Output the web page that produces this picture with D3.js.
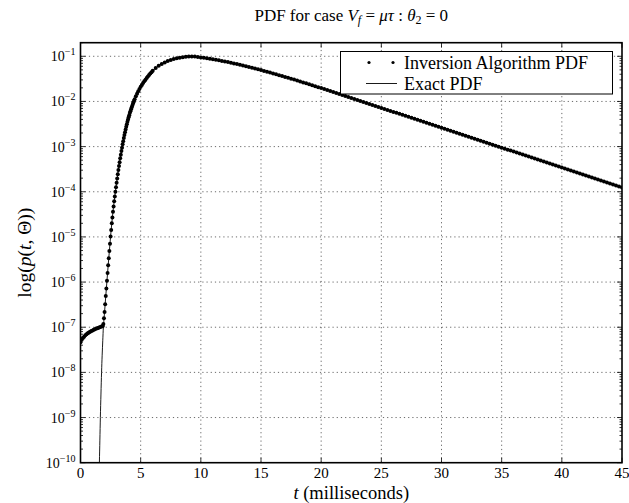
<!DOCTYPE html>
<html>
<head>
<meta charset="utf-8">
<script src="https://cdn.jsdelivr.net/npm/d3@7"></script>
<style>
  body { margin: 0; background: white; }
  text { font-family: "Liberation Serif", "DejaVu Serif", serif; fill: black; }
</style>
</head>
<body>
<div id="container"></div>
<script>
let w = 629;
let h = 503;
let margin = {left: 80.5, right: 7, top: 42.7, bottom: 40.3};

// DATA (y given as log10 of p)
let xTicks = [0, 5, 10, 15, 20, 25, 30, 35, 40, 45];
let yTickExps = [-10, -9, -8, -7, -6, -5, -4, -3, -2, -1];

// inversion algorithm dots
let tInv = [
  0, 0.1, 0.2, 0.3, 0.4, 0.5, 0.6, 0.7, 0.8, 0.9, 1.0, 1.1, 1.2, 1.3, 1.4, 1.5, 1.6, 1.7, 1.8,
  1.85, 1.9, 1.95, 2.0, 2.05, 2.1, 2.15, 2.2, 2.25, 2.3, 2.35, 2.4, 2.45, 2.5, 2.55, 2.6, 2.65, 2.7, 2.75, 2.8, 2.85, 2.9, 2.95,
  3.0, 3.05, 3.1, 3.15, 3.2, 3.25, 3.3, 3.35, 3.4, 3.45, 3.5, 3.55, 3.6, 3.65, 3.7, 3.75, 3.8, 3.85, 3.9, 3.95,
  4.0, 4.05, 4.1, 4.15, 4.2, 4.25, 4.3, 4.35, 4.4, 4.45, 4.5,
  4.6, 4.7, 4.8, 4.9, 5.0, 5.1, 5.2, 5.3, 5.4, 5.5, 5.6, 5.7, 5.8, 5.9, 6.0,
  6.25, 6.5, 6.75, 7, 7.25, 7.5, 7.75, 8, 8.25, 8.5, 8.75, 9, 9.25, 9.5, 9.75, 10,
  10.25, 10.5, 10.75, 11, 11.25, 11.5, 11.75, 12, 12.25, 12.5, 12.75, 13, 13.25, 13.5, 13.75, 14,
  14.25, 14.5, 14.75, 15, 15.25, 15.5, 15.75, 16, 16.25, 16.5, 16.75, 17, 17.25, 17.5, 17.75, 18,
  18.25, 18.5, 18.75, 19, 19.25, 19.5, 19.75, 20, 20.25, 20.5, 20.75, 21, 21.25, 21.5, 21.75, 22,
  22.25, 22.5, 22.75, 23, 23.25, 23.5, 23.75, 24, 24.25, 24.5, 24.75, 25, 25.25, 25.5, 25.75, 26,
  26.25, 26.5, 26.75, 27, 27.25, 27.5, 27.75, 28, 28.25, 28.5, 28.75, 29, 29.25, 29.5, 29.75, 30,
  30.25, 30.5, 30.75, 31, 31.25, 31.5, 31.75, 32, 32.25, 32.5, 32.75, 33, 33.25, 33.5, 33.75, 34,
  34.25, 34.5, 34.75, 35, 35.25, 35.5, 35.75, 36, 36.25, 36.5, 36.75, 37, 37.25, 37.5, 37.75, 38,
  38.25, 38.5, 38.75, 39, 39.25, 39.5, 39.75, 40, 40.25, 40.5, 40.75, 41, 41.25, 41.5, 41.75, 42,
  42.25, 42.5, 42.75, 43, 43.25, 43.5, 43.75, 44, 44.25, 44.5, 44.75, 45
];
let invLogP = [
  -7.33, -7.28, -7.24, -7.21, -7.18, -7.155, -7.135, -7.115, -7.10, -7.085, -7.07, -7.055, -7.045, -7.03, -7.02, -7.01, -7.00, -6.99, -6.98,
  -6.975, -6.93, -6.80, -6.66, -6.49, -6.31, -6.14, -5.97, -5.80, -5.63, -5.47, -5.31, -5.15, -4.99, -4.845, -4.70, -4.57, -4.44, -4.325, -4.21, -4.105, -4.00, -3.90,
  -3.80, -3.705, -3.61, -3.52, -3.43, -3.345, -3.26, -3.18, -3.10, -3.025, -2.95, -2.88, -2.81, -2.745, -2.68, -2.62, -2.56, -2.505, -2.45, -2.40,
  -2.35, -2.304, -2.258, -2.216, -2.173, -2.134, -2.095, -2.059, -2.023, -1.987, -1.951,
  -1.886, -1.827, -1.773, -1.723, -1.677, -1.634, -1.593, -1.554, -1.517, -1.482, -1.448, -1.415, -1.383, -1.352, -1.322,
  -1.262, -1.21, -1.17, -1.135, -1.105, -1.08, -1.06, -1.043, -1.03, -1.02, -1.012, -1.007, -1.005, -1.007, -1.014, -1.024,
  -1.034, -1.044, -1.054, -1.065, -1.077, -1.09, -1.102, -1.115, -1.129, -1.144, -1.158, -1.173, -1.189, -1.205, -1.221, -1.237,
  -1.254, -1.272, -1.289, -1.306, -1.324, -1.343, -1.361, -1.379, -1.398, -1.418, -1.437, -1.456, -1.476, -1.496, -1.516, -1.536,
  -1.557, -1.578, -1.598, -1.619, -1.64, -1.662, -1.683, -1.704, -1.726, -1.748, -1.769, -1.791, -1.813, -1.835, -1.857, -1.879,
  -1.901, -1.923, -1.945, -1.967, -1.989, -2.011, -2.033, -2.055, -2.077, -2.099, -2.121, -2.143, -2.165, -2.187, -2.209, -2.231,
  -2.253, -2.275, -2.297, -2.319, -2.341, -2.363, -2.385, -2.407, -2.429, -2.451, -2.473, -2.495, -2.517, -2.539, -2.561, -2.583,
  -2.605, -2.627, -2.649, -2.671, -2.693, -2.715, -2.737, -2.759, -2.781, -2.803, -2.825, -2.847, -2.869, -2.891, -2.913, -2.935,
  -2.957, -2.979, -3.001, -3.023, -3.045, -3.067, -3.089, -3.111, -3.133, -3.155, -3.177, -3.199, -3.221, -3.243, -3.265, -3.287,
  -3.309, -3.331, -3.353, -3.375, -3.397, -3.419, -3.441, -3.463, -3.485, -3.507, -3.529, -3.551, -3.573, -3.595, -3.617, -3.639,
  -3.661, -3.683, -3.705, -3.727, -3.749, -3.771, -3.793, -3.815, -3.837, -3.859, -3.881, -3.903
];

// exact pdf line
let tExact = [1.55, 1.57, 1.61, 1.65, 1.70, 1.75, 1.80, 1.85, 1.90, 1.95, 2.0, 2.1, 2.2, 2.3, 2.4, 2.5, 2.6, 2.7, 2.8, 2.9,
  3.0, 3.2, 3.4, 3.6, 3.8, 4.0, 4.2, 4.4, 4.7, 5.0, 5.5, 6, 6.5, 7, 7.5, 8, 8.5, 9, 9.5, 10,
  11, 12, 13, 14, 15, 16, 17, 18, 19, 20, 21, 25, 30, 35, 40, 45];
let exactLogP = [-10.3, -10.0, -9.5, -9.0, -8.48, -8.0, -7.62, -7.30, -7.0, -6.83, -6.66, -6.31, -5.97, -5.63, -5.31, -4.99, -4.70, -4.44, -4.21, -4.00,
  -3.80, -3.43, -3.10, -2.81, -2.56, -2.35, -2.173, -2.023, -1.827, -1.677, -1.482, -1.322, -1.21, -1.135, -1.08, -1.043, -1.02, -1.007, -1.007, -1.024,
  -1.065, -1.115, -1.173, -1.237, -1.306, -1.379, -1.456, -1.536, -1.619, -1.704, -1.791, -2.143, -2.583, -3.023, -3.463, -3.903];

let legendLabels = ["Inversion Algorithm PDF", "Exact PDF"];

// SVG
let viz = d3.select("#container").append("svg")
    .attr("width", w)
    .attr("height", h)
    .style("display", "block")
    .style("background-color", "white");

// SCALES
let xScale = d3.scaleLinear().domain([0, 45]).range([margin.left, w - margin.right]);
let yScale = d3.scaleLog().domain([1e-10, 0.2]).range([h - margin.bottom, margin.top]);

let x0 = margin.left, x1 = w - margin.right, y0 = h - margin.bottom, y1 = margin.top;

// grid
let grid = viz.append("g");
grid.selectAll(".vgrid").data(xTicks.slice(1, -1)).enter()
  .append("line")
    .attr("x1", d => xScale(d)).attr("x2", d => xScale(d))
    .attr("y1", y0).attr("y2", y1)
    .attr("stroke", "#444").attr("stroke-width", 0.8)
    .attr("stroke-dasharray", "1.2,3");
grid.selectAll(".hgrid").data(yTickExps.slice(1)).enter()
  .append("line")
    .attr("x1", x0).attr("x2", x1)
    .attr("y1", d => yScale(Math.pow(10, d))).attr("y2", d => yScale(Math.pow(10, d)))
    .attr("stroke", "#444").attr("stroke-width", 0.8)
    .attr("stroke-dasharray", "1.2,3");

// ticks (inward, all four sides)
let ticks = viz.append("g").attr("stroke", "black").attr("stroke-width", 0.8);
xTicks.forEach(function(t){
  ticks.append("line").attr("x1", xScale(t)).attr("x2", xScale(t)).attr("y1", y0).attr("y2", y0 - 5);
  ticks.append("line").attr("x1", xScale(t)).attr("x2", xScale(t)).attr("y1", y1).attr("y2", y1 + 5);
});
let minorVals = [];
for (let k = -10; k <= -1; k++) {
  for (let m = 2; m <= 9; m++) {
    if (m * Math.pow(10, k) <= 0.2) minorVals.push(m * Math.pow(10, k));
  }
}
yTickExps.forEach(function(e){
  let y = yScale(Math.pow(10, e));
  ticks.append("line").attr("x1", x0).attr("x2", x0 + 5).attr("y1", y).attr("y2", y);
  ticks.append("line").attr("x1", x1).attr("x2", x1 - 5).attr("y1", y).attr("y2", y);
});
minorVals.forEach(function(v){
  let y = yScale(v);
  ticks.append("line").attr("x1", x0).attr("x2", x0 + 2.5).attr("y1", y).attr("y2", y);
  ticks.append("line").attr("x1", x1).attr("x2", x1 - 2.5).attr("y1", y).attr("y2", y);
});

// clip for the data
viz.append("clipPath").attr("id", "plotclip")
  .append("rect").attr("x", x0).attr("y", y1).attr("width", x1 - x0).attr("height", y0 - y1);

let plot = viz.append("g").attr("clip-path", "url(#plotclip)");

let exactData = tExact.map((t, i) => ({t: t, p: Math.pow(10, exactLogP[i])}));
let invData = tInv.map((t, i) => ({t: t, p: Math.pow(10, invLogP[i])}));

let lineMaker = d3.line()
    .x(d => xScale(d.t))
    .y(d => yScale(d.p))
    .curve(d3.curveMonotoneX);

plot.append("path")
    .datum(exactData)
    .attr("d", lineMaker)
    .attr("fill", "none")
    .attr("stroke", "black")
    .attr("stroke-width", 0.9);

plot.selectAll(".dot").data(invData).enter()
  .append("circle")
    .attr("class", "dot")
    .attr("cx", d => xScale(d.t))
    .attr("cy", d => yScale(d.p))
    .attr("r", 2.0)
    .attr("fill", "black");

// frame
viz.append("rect")
    .attr("x", x0).attr("y", y1)
    .attr("width", x1 - x0).attr("height", y0 - y1)
    .attr("fill", "none")
    .attr("stroke", "black")
    .attr("stroke-width", 1.6);

// x tick labels
viz.selectAll(".xlab").data(xTicks).enter()
  .append("text")
    .attr("x", d => xScale(d))
    .attr("y", y0 + 15)
    .attr("text-anchor", "middle")
    .style("font-size", "15px")
    .text(d => d);

// y tick labels 10^k
yTickExps.forEach(function(e){
  let y = yScale(Math.pow(10, e));
  let txt = viz.append("text")
    .attr("x", x0 - 5)
    .attr("y", y + 5)
    .attr("text-anchor", "end")
    .style("font-size", "14px");
  txt.append("tspan").text("10");
  txt.append("tspan").attr("dy", -6).style("font-size", "10px").text("\u2212" + (-e));
});

// title
let title = viz.append("text")
    .attr("x", (x0 + x1) / 2)
    .attr("y", 21)
    .attr("text-anchor", "middle")
    .style("font-size", "17px");
title.append("tspan").text("PDF for case ");
title.append("tspan").style("font-style", "italic").text("V");
title.append("tspan").attr("dy", 3).style("font-size", "12px").style("font-style", "italic").text("f");
title.append("tspan").attr("dy", -3).text(" = ");
title.append("tspan").style("font-style", "italic").text("\u03bc\u03c4");
title.append("tspan").text(" : ");
title.append("tspan").style("font-style", "italic").text("\u03b8");
title.append("tspan").attr("dy", 3).style("font-size", "12px").text("2");
title.append("tspan").attr("dy", -3).text(" = 0");

// x label
let xlab = viz.append("text")
    .attr("x", (x0 + x1) / 2)
    .attr("y", 499)
    .attr("text-anchor", "middle")
    .style("font-size", "18.5px");
xlab.append("tspan").style("font-style", "italic").text("t");
xlab.append("tspan").text(" (milliseconds)");

// y label
let ylab = viz.append("text")
    .attr("transform", "translate(31," + ((y0 + y1) / 2) + ") rotate(-90)")
    .attr("text-anchor", "middle")
    .style("font-size", "19.5px");
ylab.append("tspan").text("log(");
ylab.append("tspan").style("font-style", "italic").text("p");
ylab.append("tspan").text("(");
ylab.append("tspan").style("font-style", "italic").text("t");
ylab.append("tspan").text(", \u0398))");

// legend
let legend = viz.append("g");
legend.append("rect")
    .attr("x", 340.5).attr("y", 51.5)
    .attr("width", 272).attr("height", 42.5)
    .attr("fill", "white")
    .attr("stroke", "black")
    .attr("stroke-width", 1);
legend.selectAll(".ldot").data([369, 393]).enter()
  .append("circle")
    .attr("cx", d => d).attr("cy", 62.5).attr("r", 1.6).attr("fill", "black");
legend.append("line")
    .attr("x1", 366).attr("x2", 397)
    .attr("y1", 83.5).attr("y2", 83.5)
    .attr("stroke", "black").attr("stroke-width", 0.9);
legend.selectAll(".ltext").data(legendLabels).enter()
  .append("text")
    .attr("x", 404)
    .attr("y", (d, i) => 68.5 + i * 21)
    .style("font-size", "18px")
    .text(d => d);
</script>
</body>
</html>
